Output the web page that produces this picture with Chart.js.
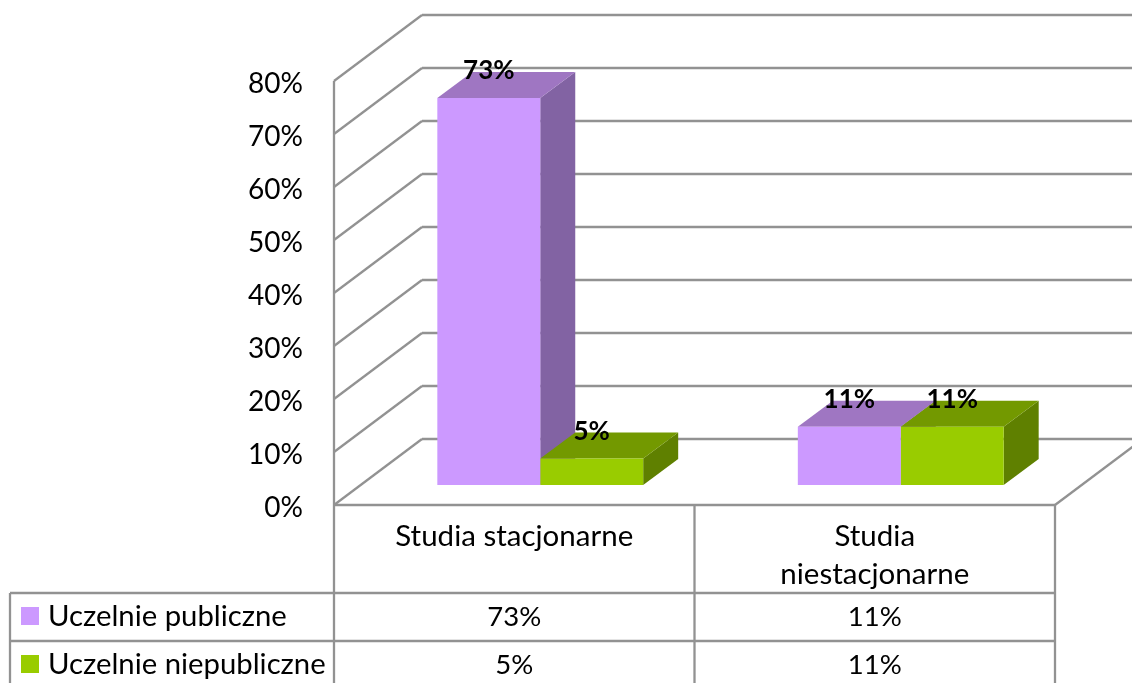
<!DOCTYPE html>
<html>
<head>
<meta charset="utf-8">
<title>Uczelnie</title>
<script src="https://cdn.jsdelivr.net/npm/chart.js@4/dist/chart.umd.min.js"></script>
<style>
  html, body { margin: 0; padding: 0; background: #fff; overflow: hidden; }
  canvas { display: block; }
</style>
</head>
<body>
<canvas id="chart" width="1132" height="683"></canvas>
<script>
const categories = ["Studia stacjonarne", ["Studia", "niestacjonarne"]];
const publicValues = [73, 11];
const privateValues = [5, 11];
const seriesNames = ["Uczelnie publiczne", "Uczelnie niepubliczne"];

const FONT = "Lato";
const gridColor = "#929292";
const colors = [
  { front: "#cc99ff", top: "#9f76c2", side: "#8263a3" },
  { front: "#99cc00", top: "#739900", side: "#5f8000" }
];

// how far the back wall and the bars sit behind the front plane
const wall = { dx: 88, dy: -66 };
const barShift = { dx: 26, dy: -20 };
const barDepth = { dx: 35, dy: -26 };

function line(ctx, x1, y1, x2, y2) {
  ctx.beginPath();
  ctx.moveTo(x1, y1);
  ctx.lineTo(x2, y2);
  ctx.stroke();
}

function poly(ctx, pts, fill) {
  ctx.fillStyle = fill;
  ctx.beginPath();
  pts.forEach((p, i) => i ? ctx.lineTo(p[0], p[1]) : ctx.moveTo(p[0], p[1]));
  ctx.closePath();
  ctx.fill();
}

const walls3d = {
  id: "walls3d",
  beforeDatasetsDraw(chart) {
    const ctx = chart.ctx, y = chart.scales.y, a = chart.chartArea;
    ctx.save();
    ctx.strokeStyle = gridColor;
    ctx.lineWidth = 2.3;
    ctx.fillStyle = "#000";
    ctx.font = "28px " + FONT;
    ctx.textAlign = "right";
    ctx.textBaseline = "middle";
    y.ticks.forEach(t => {
      const py = y.getPixelForValue(t.value);
      line(ctx, a.left, py, a.left + wall.dx, py + wall.dy);
      line(ctx, a.left + wall.dx, py + wall.dy, a.right + wall.dx, py + wall.dy);
      ctx.fillText(t.label, 303, py + 3);
    });
    line(ctx, a.right, a.bottom, a.right + wall.dx, a.bottom + wall.dy);
    ctx.restore();

    // top and side faces of the bars, then shift so the library draws the fronts
    ctx.save();
    ctx.translate(barShift.dx, barShift.dy);
    chart.data.datasets.forEach((ds, i) => {
      chart.getDatasetMeta(i).data.forEach(bar => {
        const l = bar.x - bar.width / 2, r = bar.x + bar.width / 2;
        const d = barDepth;
        poly(ctx, [[r, bar.y], [r + d.dx, bar.y + d.dy], [r + d.dx, bar.base + d.dy], [r, bar.base]], colors[i].side);
        poly(ctx, [[l, bar.y], [l + d.dx, bar.y + d.dy], [r + d.dx, bar.y + d.dy], [r, bar.y]], colors[i].top);
      });
    });
  },
  afterDatasetsDraw(chart) {
    const ctx = chart.ctx;
    ctx.restore();
    ctx.save();
    ctx.fillStyle = "#000";
    ctx.font = "bold 26px " + FONT;
    ctx.textAlign = "center";
    ctx.textBaseline = "middle";
    chart.data.datasets.forEach((ds, i) => {
      chart.getDatasetMeta(i).data.forEach((bar, j) => {
        ctx.fillText(ds.data[j] + "%", bar.x + barShift.dx, bar.y + barShift.dy - 27);
      });
    });
    ctx.restore();
  }
};

const dataTable = {
  id: "dataTable",
  afterDraw(chart) {
    const ctx = chart.ctx, a = chart.chartArea;
    const rows = [593, 641];
    const textRows = [617, 665];
    const mid = (a.left + a.right) / 2;
    const hi = chart.canvas.height;
    ctx.save();
    ctx.strokeStyle = gridColor;
    ctx.lineWidth = 2.3;
    line(ctx, a.left, a.top, a.left, hi);
    line(ctx, a.left, a.bottom, a.right, a.bottom);
    line(ctx, mid, a.bottom, mid, hi);
    line(ctx, a.right, a.bottom, a.right, hi);
    line(ctx, 10, rows[0], 10, hi);
    rows.forEach(r => line(ctx, 10, r, a.right, r));

    ctx.textBaseline = "middle";
    chart.data.datasets.forEach((ds, i) => {
      ctx.fillStyle = colors[i].front;
      ctx.fillRect(21, textRows[i] - 10, 18, 18);
      ctx.fillStyle = "#000";
      ctx.textAlign = "left";
      ctx.font = "29.3px " + FONT;
      ctx.fillText(seriesNames[i], 48, textRows[i]);
      ctx.textAlign = "center";
      ctx.font = "27.5px " + FONT;
      ds.data.forEach((v, j) => {
        ctx.fillText(v + "%", chart.scales.x.getPixelForTick(j), textRows[i]);
      });
    });
    ctx.restore();
  }
};

new Chart(document.getElementById("chart"), {
  type: "bar",
  data: {
    labels: categories,
    datasets: [
      { label: seriesNames[0], data: publicValues, backgroundColor: colors[0].front, borderWidth: 0, clip: false },
      { label: seriesNames[1], data: privateValues, backgroundColor: colors[1].front, borderWidth: 0, clip: false }
    ]
  },
  options: {
    responsive: false,
    animation: false,
    devicePixelRatio: 1,
    layout: { padding: { top: 81, right: 77, left: 0, bottom: 0 } },
    plugins: { legend: { display: false }, title: { display: false }, tooltip: { enabled: false } },
    datasets: { bar: { categoryPercentage: 0.571, barPercentage: 1 } },
    scales: {
      x: {
        grid: { display: false },
        border: { display: false },
        afterFit: s => { s.height = 178; },
        ticks: { color: "#000", font: { family: FONT, size: 29.5, lineHeight: 1.3 }, padding: 4, maxRotation: 0, autoSkip: false }
      },
      y: {
        min: 0,
        max: 80,
        grid: { display: false },
        border: { display: false },
        afterFit: s => { s.width = 334; },
        ticks: { stepSize: 10, display: false, callback: v => v + "%" }
      }
    }
  },
  plugins: [walls3d, dataTable]
});
</script>
</body>
</html>
